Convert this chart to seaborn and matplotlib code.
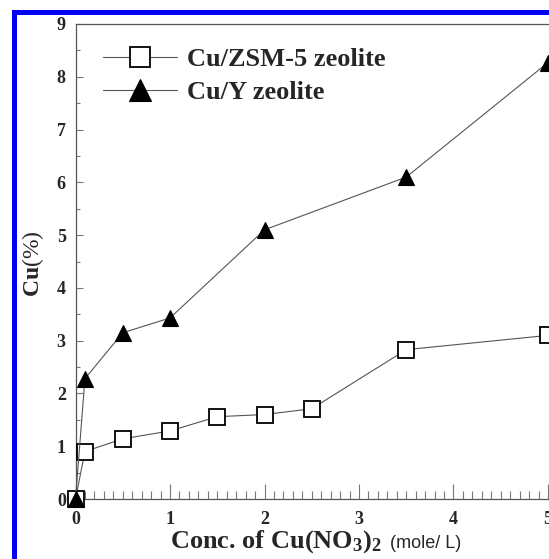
import matplotlib
matplotlib.use("Agg")
import matplotlib.pyplot as plt
from matplotlib.ticker import MultipleLocator
from matplotlib.font_manager import FontProperties
from matplotlib.patches import Rectangle
import seaborn as sns
import pandas as pd

# ---- data ----
zsm_conc = [0.0, 0.1, 0.5, 1.0, 1.5, 2.0, 2.5, 3.5, 5.0]
zsm_cu = [0.0, 0.90, 1.14, 1.29, 1.56, 1.60, 1.71, 2.83, 3.10]
y_conc = [0.0, 0.1, 0.5, 1.0, 2.0, 3.5, 5.0]
y_cu = [0.0, 2.28, 3.15, 3.43, 5.10, 6.10, 8.27]
series_names = ["Cu/ZSM-5 zeolite", "Cu/Y zeolite"]
x_ticks = [0, 1, 2, 3, 4, 5]
y_ticks = [0, 1, 2, 3, 4, 5, 6, 7, 8, 9]

df_zsm = pd.DataFrame({"conc": zsm_conc, "cu": zsm_cu})
df_y = pd.DataFrame({"conc": y_conc, "cu": y_cu})

sns.set_style("ticks")
plt.rcParams["font.family"] = ["Liberation Serif", "DejaVu Sans"]
plt.rcParams["mathtext.fontset"] = "custom"
plt.rcParams["mathtext.rm"] = "Liberation Serif"
plt.rcParams["mathtext.bf"] = "Liberation Serif:bold"
plt.rcParams["mathtext.default"] = "regular"

W, H = 549, 559
fig = plt.figure(figsize=(W / 100, H / 100), dpi=100)
x0, ppu = 75.5, 94.5
ax = fig.add_axes([x0 / W, (H - 499) / H, 5.3 * ppu / W, 475 / H])

line_col = "#555555"
sns.lineplot(data=df_zsm, x="conc", y="cu", ax=ax, color=line_col, lw=0.8,
             marker="s", markersize=11, markerfacecolor="white",
             markeredgecolor="black", markeredgewidth=1.3,
             label=series_names[0], clip_on=False, zorder=3)
sns.lineplot(data=df_y, x="conc", y="cu", ax=ax, color=line_col, lw=0.8,
             marker="^", markersize=12, markerfacecolor="black",
             markeredgecolor="black", markeredgewidth=0.8,
             label=series_names[1], clip_on=False, zorder=4)

ax.set_xlim(0, 5.3)
ax.set_ylim(0, 9)
ax.set_xticks(x_ticks)
ax.set_yticks(y_ticks)
ax.xaxis.set_minor_locator(MultipleLocator(0.1))
ax.yaxis.set_minor_locator(MultipleLocator(0.5))
ax.set_xlabel("")
ax.set_ylabel("")

spine_col = "#555555"
for s in ["left", "top", "bottom", "right"]:
    ax.spines[s].set_color(spine_col)
    ax.spines[s].set_linewidth(0.9)
ax.tick_params(axis="both", which="both", direction="in", color="#777777",
               top=False, right=False)
ax.tick_params(axis="x", which="major", length=11, width=0.8, pad=9,
               labelsize=13)
ax.tick_params(axis="x", which="minor", length=5.5, width=0.8)
ax.tick_params(axis="y", which="major", length=5, width=0.8, pad=7,
               labelsize=13)
ax.tick_params(axis="y", which="minor", length=3, width=0.8)
for lab in ax.get_xticklabels() + ax.get_yticklabels():
    lab.set_fontweight("bold")

handles, labels = ax.get_legend_handles_labels()
ax.legend(handles, labels, loc="upper left",
          bbox_to_anchor=(103 / W, 1 - 48 / H), bbox_transform=fig.transFigure,
          frameon=False, borderpad=0, borderaxespad=0, handlelength=2.8,
          handletextpad=0.4, labelspacing=0.34, markerscale=1.3,
          prop=FontProperties(family="Liberation Serif", weight="bold", size=19))

# axis labels
fig.text(170 / W, 1 - 548 / H, r"Conc. of Cu(NO$_3$)$_2$", ha="left",
         va="baseline", fontsize=19, fontweight="bold",
         family="Liberation Serif")
fig.text(390 / W, 1 - 548 / H, "(mole/ L)", ha="left", va="baseline",
         fontsize=13, family="Liberation Sans")
fig.text(33 / W, 1 - 264 / H, r"Cu$\mathrm{(\%)}$", rotation=90, ha="center",
         va="center", fontsize=17, fontweight="bold",
         family="Liberation Serif")

# blue frame (clipped figure border)
fig.add_artist(Rectangle((12 / W, 0), 5 / W, 1 - 10 / H,
                         transform=fig.transFigure, color="#0000f0", lw=0))
fig.add_artist(Rectangle((12 / W, 1 - 15 / H), 1, 5 / H,
                         transform=fig.transFigure, color="#0000f0", lw=0))

fig.savefig("out.png", dpi=100)
